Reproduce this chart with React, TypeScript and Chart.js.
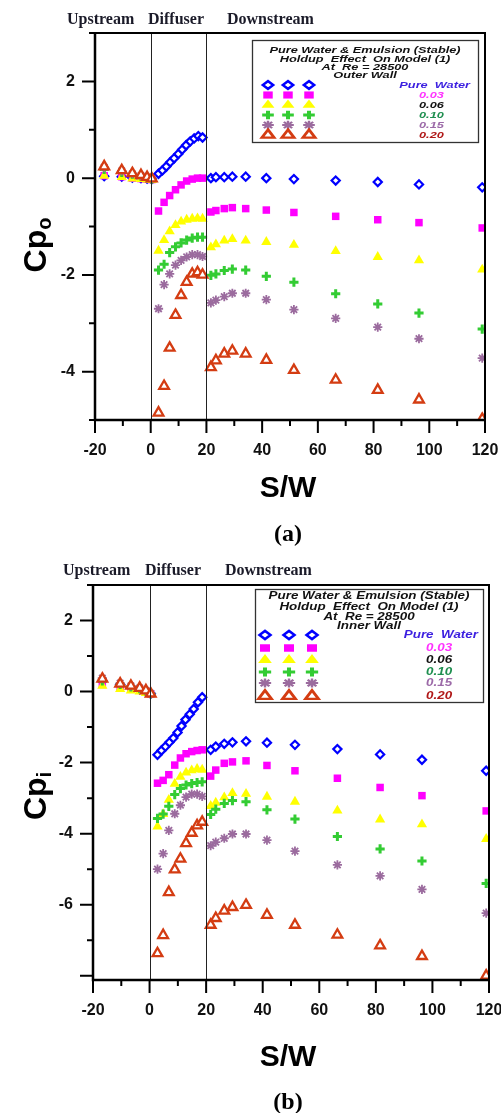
import React, { useEffect, useRef } from 'react';
import { Chart, registerables } from 'chart.js';
import { drawPoint } from 'chart.js/helpers';

Chart.register(...registerables);

// ---------------- DATA ----------------
// Station positions S/W (upstream taps, diffuser taps, downstream taps)
const upstreamX = [-16.7, -10.4, -6.6, -3.5, -1.3, 0.4];
const diffuserX = [2.8, 4.8, 6.8, 8.9, 10.9, 12.9, 14.9, 16.8, 18.6];
const pureDiffuserX = [2.8, 4.2, 5.6, 7.0, 8.4, 9.9, 11.3, 12.7, 14.2, 15.6, 17.1, 18.6];
const downstreamX = [21.6, 23.4, 26.4, 29.3, 34.1, 41.5, 51.4, 66.4, 81.5, 96.3, 119];
const stationX = [...upstreamX, ...diffuserX, ...downstreamX];
const pureStationX = [...upstreamX, ...pureDiffuserX, ...downstreamX];

const sectionLabels = ['Upstream', 'Diffuser', 'Downstream'];
const sectionBounds = [0, 20];
const seriesLabels = ['Pure  Water', '0.03', '0.06', '0.10', '0.15', '0.20'];

const xTickMin = -20;
const xTickMax = 120;
const xMinorStep = 10;
const xMajorStep = 20;

// (a) Outer wall Cpo
const cpoPureWater = [0.04, 0.03, 0.01, 0.0, -0.01, -0.02,
  0.09, 0.16, 0.24, 0.33, 0.41, 0.5, 0.59, 0.68, 0.76, 0.82, 0.87, 0.84,
  0.0, 0.02, 0.02, 0.03, 0.03, 0.0, -0.02, -0.05, -0.08, -0.13, -0.19];
const cpo003 = [0.05, 0.03, 0.0, -0.01, -0.02, -0.03,
  -0.68, -0.5, -0.36, -0.24, -0.14, -0.06, -0.02, 0.0, 0.0,
  -0.7, -0.67, -0.63, -0.61, -0.63, -0.66, -0.71, -0.79, -0.86, -0.92, -1.03];
const cpo006 = [0.05, 0.02, -0.01, -0.02, -0.03, -0.04,
  -1.5, -1.28, -1.1, -0.97, -0.9, -0.86, -0.84, -0.83, -0.84,
  -1.43, -1.37, -1.29, -1.26, -1.29, -1.32, -1.38, -1.51, -1.63, -1.7, -1.89];
const cpo010 = [0.18, 0.12, 0.08, 0.04, 0.01, -0.02,
  -1.9, -1.78, -1.54, -1.42, -1.34, -1.28, -1.24, -1.22, -1.22,
  -2.01, -1.98, -1.91, -1.88, -1.9, -2.03, -2.15, -2.39, -2.6, -2.79, -3.12];
const cpo015 = [0.22, 0.15, 0.09, 0.05, 0.02, -0.01,
  -2.7, -2.2, -1.98, -1.8, -1.7, -1.63, -1.58, -1.58, -1.62,
  -2.58, -2.52, -2.45, -2.38, -2.38, -2.51, -2.72, -2.9, -3.08, -3.32, -3.72];
const cpo020 = [0.24, 0.16, 0.1, 0.06, 0.02, -0.01,
  -4.85, -4.3, -3.51, -2.83, -2.42, -2.15, -1.98, -1.95, -2.0,
  -3.91, -3.77, -3.63, -3.57, -3.63, -3.76, -3.97, -4.17, -4.38, -4.58, -4.98];

// (b) Inner wall Cpi
const cpiPureWater = [0.3, 0.2, 0.12, 0.06, 0.0, -0.06,
  -1.78, -1.66, -1.55, -1.43, -1.31, -1.15, -0.97, -0.79, -0.64, -0.49, -0.3, -0.16,
  -1.64, -1.55, -1.47, -1.43, -1.4, -1.44, -1.5, -1.62, -1.77, -1.92, -2.23];
const cpi003 = [0.2, 0.12, 0.08, 0.04, 0.0, -0.07,
  -2.58, -2.5, -2.34, -2.07, -1.87, -1.75, -1.69, -1.66, -1.64,
  -2.38, -2.21, -2.02, -1.98, -1.95, -2.08, -2.23, -2.44, -2.7, -2.93, -3.36];
const cpi006 = [0.16, 0.07, 0.03, 0.0, -0.04, -0.08,
  -3.8, -3.45, -3.05, -2.6, -2.4, -2.28, -2.22, -2.18, -2.2,
  -3.22, -3.13, -2.98, -2.86, -2.88, -2.96, -3.1, -3.35, -3.6, -3.74, -4.15];
const cpi010 = [0.3, 0.2, 0.13, 0.08, 0.01, -0.06,
  -3.57, -3.45, -3.23, -2.9, -2.73, -2.63, -2.59, -2.56, -2.54,
  -3.46, -3.31, -3.15, -3.07, -3.1, -3.33, -3.59, -4.08, -4.43, -4.77, -5.4];
const cpi015 = [0.38, 0.24, 0.16, 0.1, 0.03, -0.05,
  -5.0, -4.56, -3.91, -3.44, -3.2, -2.97, -2.89, -2.89, -2.95,
  -4.34, -4.24, -4.13, -4.01, -4.01, -4.18, -4.49, -4.88, -5.19, -5.57, -6.24];
const cpi020 = [0.36, 0.22, 0.16, 0.1, 0.03, -0.06,
  -7.37, -6.86, -5.65, -5.01, -4.71, -4.27, -3.98, -3.77, -3.67,
  -6.57, -6.38, -6.17, -6.07, -6.01, -6.29, -6.57, -6.85, -7.15, -7.45, -8.0];

const outerSeries = [cpoPureWater, cpo003, cpo006, cpo010, cpo015, cpo020];
const innerSeries = [cpiPureWater, cpi003, cpi006, cpi010, cpi015, cpi020];
const seriesStations = [pureStationX, stationX, stationX, stationX, stationX, stationX];

const outerTitle = ['Pure Water & Emulsion (Stable)', 'Holdup  Effect  On Model (1)', 'At  Re = 28500', 'Outer Wall'];
const innerTitle = ['Pure Water & Emulsion (Stable)', 'Holdup  Effect  On Model (1)', 'At  Re = 28500', 'Inner Wall'];

// ---------------- STYLES ----------------
const seriesStyles = [
  { pointStyle: 'rectRot', radius: 4.1, color: '#0000ff', fill: '#ffffff', borderWidth: 2.2, labelColor: '#3b1fe0' },
  { pointStyle: 'rect', radius: 5.3, color: '#ff00ff', fill: '#ff00ff', borderWidth: 0, labelColor: '#ff33ff' },
  { pointStyle: 'triangle', radius: 5.9, color: '#ffff00', fill: '#ffff00', borderWidth: 0, labelColor: '#111111' },
  { pointStyle: 'cross', radius: 4.6, color: '#33cc33', fill: '#33cc33', borderWidth: 3, labelColor: '#1f8f50' },
  { pointStyle: 'star', radius: 4.6, color: '#9b6b9e', fill: '#9b6b9e', borderWidth: 1.8, labelColor: '#9c6aa8' },
  { pointStyle: 'triangle', radius: 5.6, color: '#d43c12', fill: '#ffffff', borderWidth: 2.3, labelColor: '#b01818' },
];

const FONT_SANS = 'Arial, "Liberation Sans", sans-serif';
const FONT_SERIF = '"Times New Roman", "Liberation Serif", serif';

function drawStretched(ctx: CanvasRenderingContext2D, text: string, x: number, y: number, sx: number, align: CanvasTextAlign) {
  ctx.save();
  ctx.translate(x, y);
  ctx.scale(sx, 1);
  ctx.textAlign = align;
  ctx.fillText(text, 0, 0);
  ctx.restore();
}

const decorPlugin = {
  id: 'decor',
  afterDraw(chart: any, _args: any, o: any) {
    const { ctx, chartArea: a } = chart;
    const xs = chart.scales.x;
    const ys = chart.scales.y;
    ctx.save();

    // section dividers
    ctx.strokeStyle = '#222';
    ctx.lineWidth = 1;
    sectionBounds.forEach((v) => {
      const px = Math.round(xs.getPixelForValue(v)) + 0.5;
      ctx.beginPath();
      ctx.moveTo(px, a.top);
      ctx.lineTo(px, a.bottom);
      ctx.stroke();
    });

    // frame
    ctx.strokeStyle = '#000';
    ctx.lineWidth = 2.5;
    ctx.beginPath();
    ctx.moveTo(a.left, a.top);
    ctx.lineTo(a.left, a.bottom);
    ctx.lineTo(a.right, a.bottom);
    ctx.stroke();
    ctx.lineWidth = 2;
    ctx.beginPath();
    ctx.moveTo(a.left, a.top);
    ctx.lineTo(a.right, a.top);
    ctx.lineTo(a.right, a.bottom);
    ctx.stroke();

    // ticks
    ctx.lineWidth = 2;
    ctx.beginPath();
    for (let v = xTickMin; v <= xTickMax; v += xMinorStep) {
      const px = xs.getPixelForValue(v);
      const len = v % xMajorStep === 0 ? 13 : 6;
      ctx.moveTo(px, a.bottom);
      ctx.lineTo(px, a.bottom + len);
    }
    for (let v = Math.ceil(ys.min); v <= Math.floor(ys.max); v++) {
      const py = ys.getPixelForValue(v);
      const len = v % 2 === 0 ? 13 : 6;
      ctx.moveTo(a.left - len, py);
      ctx.lineTo(a.left, py);
    }
    ctx.stroke();

    // section names
    ctx.fillStyle = '#1a1a28';
    ctx.font = `bold 16px ${FONT_SERIF}`;
    ctx.textAlign = 'left';
    ctx.textBaseline = 'alphabetic';
    sectionLabels.forEach((t, i) => ctx.fillText(t, o.sectionX[i], o.sectionY));

    // y title with subscript
    ctx.save();
    ctx.translate(o.yTitleX, o.yTitleY);
    ctx.rotate(-Math.PI / 2);
    ctx.fillStyle = '#000';
    ctx.font = `bold 32px ${FONT_SANS}`;
    const w1 = ctx.measureText('Cp').width;
    ctx.font = `bold 20px ${FONT_SANS}`;
    const w2 = ctx.measureText(o.ySub).width;
    const start = -(w1 + w2) / 2;
    ctx.font = `bold 32px ${FONT_SANS}`;
    ctx.textAlign = 'left';
    ctx.fillText('Cp', start, 0);
    ctx.font = `bold 20px ${FONT_SANS}`;
    ctx.fillText(o.ySub, start + w1, 5);
    ctx.restore();

    // x title
    ctx.fillStyle = '#000';
    ctx.font = `bold 30px ${FONT_SANS}`;
    ctx.textAlign = 'center';
    ctx.textBaseline = 'middle';
    ctx.fillText('S/W', o.xTitleX, o.xTitleY);

    // caption
    ctx.font = `bold 24px ${FONT_SERIF}`;
    ctx.fillText(o.caption, o.xTitleX, o.captionY);

    // legend box
    const L = o.legend;
    ctx.fillStyle = '#ffffff';
    ctx.fillRect(L.x, L.y, L.w, L.h);
    ctx.strokeStyle = '#333';
    ctx.lineWidth = 1.3;
    ctx.strokeRect(L.x + 0.5, L.y + 0.5, L.w, L.h);
    ctx.fillStyle = '#111';
    ctx.font = `italic bold ${L.fontSize}px ${FONT_SANS}`;
    ctx.textBaseline = 'middle';
    o.titleLines.forEach((t: string, i: number) => {
      drawStretched(ctx, t, L.x + L.w / 2, L.titleY[i], L.sx, 'center');
    });
    seriesStyles.forEach((s, i) => {
      const y = L.rowY[i];
      L.markerX.forEach((mx: number) => {
        ctx.save();
        ctx.translate(mx, y);
        ctx.scale(L.sx, 1);
        ctx.fillStyle = s.fill;
        ctx.strokeStyle = s.color;
        ctx.lineWidth = s.borderWidth;
        drawPoint(ctx, { pointStyle: s.pointStyle as any, radius: s.radius * L.markerScale, rotation: 0, borderWidth: s.borderWidth }, 0, 0);
        ctx.restore();
      });
      ctx.fillStyle = s.labelColor;
      if (i === 0) {
        drawStretched(ctx, seriesLabels[i], L.pureRight, y, L.sx, 'right');
      } else {
        drawStretched(ctx, seriesLabels[i], L.numLeft, y, L.sx, 'left');
      }
    });

    ctx.restore();
  },
};

function makeConfig(series: number[][], yMin: number, yMax: number, padTop: number, padRight: number, yWidth: number, xHeight: number, deco: any) {
  const datasets = series.map((vals, i) => {
    const s = seriesStyles[i];
    const xsArr = seriesStations[i];
    return {
      label: seriesLabels[i],
      data: xsArr.map((x, j) => ({ x, y: vals[j] })),
      pointStyle: s.pointStyle,
      pointRadius: s.radius,
      pointHoverRadius: s.radius,
      pointBorderWidth: s.borderWidth,
      pointBorderColor: s.color,
      pointBackgroundColor: s.fill,
      showLine: false,
      order: series.length - 1 - i,
    };
  });
  return {
    type: 'scatter',
    data: { datasets },
    options: {
      responsive: false,
      animation: false,
      devicePixelRatio: 1,
      layout: { padding: { top: padTop, right: padRight, left: 0, bottom: 0 } },
      plugins: { legend: { display: false }, tooltip: { enabled: false }, decor: deco },
      scales: {
        x: {
          type: 'linear',
          min: xTickMin,
          max: xTickMax,
          grid: { display: false, drawTicks: false },
          border: { display: false },
          ticks: {
            stepSize: xMinorStep,
            autoSkip: false,
            maxRotation: 0,
            padding: 21,
            color: '#111',
            font: { family: FONT_SANS, size: 16, weight: 'bold' },
            callback: (v: any) => (Number(v) % xMajorStep === 0 ? String(v) : ''),
          },
          afterFit: (s: any) => { s.height = xHeight; s.paddingLeft = 0; s.paddingRight = 0; },
        },
        y: {
          type: 'linear',
          min: yMin,
          max: yMax,
          grid: { display: false, drawTicks: false },
          border: { display: false },
          ticks: {
            stepSize: 1,
            autoSkip: false,
            padding: 20,
            color: '#111',
            font: { family: FONT_SANS, size: 16, weight: 'bold' },
            callback: (v: any) => {
              const n = Number(v);
              return Number.isInteger(n) && n % 2 === 0 ? String(n) : '';
            },
          },
          afterFit: (s: any) => { s.width = yWidth; s.paddingTop = 0; s.paddingBottom = 0; },
        },
      },
    },
    plugins: [decorPlugin],
  } as any;
}

const decoOuter = {
  sectionX: [67, 148, 227],
  sectionY: 24,
  yTitleX: 46,
  yTitleY: 245,
  ySub: 'o',
  xTitleX: 288,
  xTitleY: 489,
  caption: '(a)',
  captionY: 535,
  titleLines: outerTitle,
  legend: {
    x: 252, y: 40, w: 226, h: 102, fontSize: 9.6, sx: 1.33,
    titleY: [50, 59, 67, 75],
    rowY: [85, 95, 105, 115, 125, 135],
    markerX: [268, 288, 309],
    markerScale: 0.95,
    pureRight: 470,
    numLeft: 419,
  },
};

const decoInner = {
  sectionX: [63, 145, 225],
  sectionY: 19,
  yTitleX: 46,
  yTitleY: 240,
  ySub: 'i',
  xTitleX: 288,
  xTitleY: 502,
  caption: '(b)',
  captionY: 547,
  titleLines: innerTitle,
  legend: {
    x: 255, y: 33, w: 228, h: 113, fontSize: 10, sx: 1.34,
    titleY: [40, 51, 61, 70],
    rowY: [79, 92, 104, 116, 127, 140],
    markerX: [265, 289, 312],
    markerScale: 1.0,
    pureRight: 478,
    numLeft: 426,
  },
};

function ChartCanvas({ top, height, config }: { top: number; height: number; config: any }) {
  const ref = useRef<HTMLCanvasElement | null>(null);
  useEffect(() => {
    if (!ref.current) return;
    const chart = new Chart(ref.current, config);
    return () => chart.destroy();
  }, [config]);
  return (
    <canvas
      ref={ref}
      width={501}
      height={height}
      style={{ position: 'absolute', left: 0, top, width: 501, height, display: 'block' }}
    />
  );
}

const configOuter = makeConfig(outerSeries, -5, 3, 33, 16, 95, 556 - 420, decoOuter);
const configInner = makeConfig(innerSeries, -8.12, 3, 29, 12, 93, 557 - 424, decoInner);

export default function App() {
  return (
    <div style={{ position: 'absolute', left: 0, top: 0, width: 501, height: 1113, background: '#fff', overflow: 'hidden' }}>
      <ChartCanvas top={0} height={556} config={configOuter} />
      <ChartCanvas top={556} height={557} config={configInner} />
    </div>
  );
}
